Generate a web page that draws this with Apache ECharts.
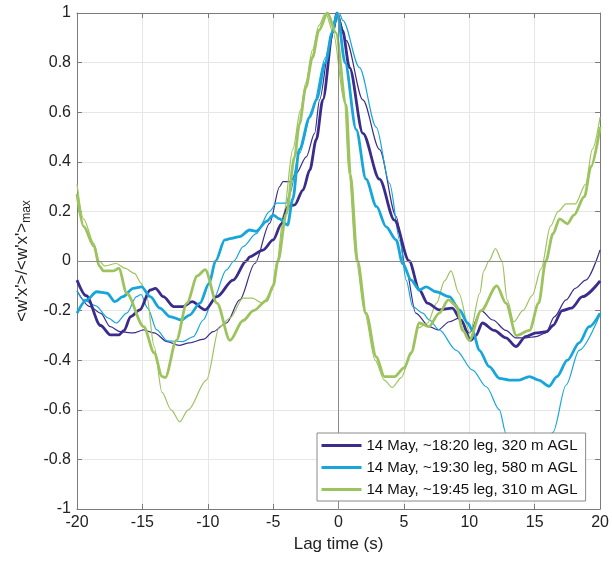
<!DOCTYPE html>
<html>
<head>
<meta charset="utf-8">
<script src="https://cdn.jsdelivr.net/npm/echarts@6/dist/echarts.min.js"></script>
<style>
html,body{margin:0;padding:0;background:#fff;}
#chart{width:612px;height:563px;}
</style>
</head>
<body>
<div id="chart"></div>
<script>
// ---- data (lag time in s, normalized covariance) ----
const legendNames = ['14 May, ~18:20 leg, 320 m AGL', '14 May, ~19:30 leg, 580 m AGL', '14 May, ~19:45 leg, 310 m AGL'];
const xTicks = [-20, -15, -10, -5, 0, 5, 10, 15, 20];
const yTicks = [-1, -0.8, -0.6, -0.4, -0.2, 0, 0.2, 0.4, 0.6, 0.8, 1];

// thick purple (18:20 leg)
const purpleLag = [-20,-19.3,-18.2,-17.45,-16.8,-16.4,-15.9,-15.2,-14.4,-14.0,-13.4,-12.6,-11.9,-11.2,-10.2,-9.3,-8.07,-7.05,-6.8,-5.78,-5.0,-4.37,-3.87,-3.36,-2.72,-2.2,-1.7,-1.2,-0.43,-0.13,0.3,0.84,1.86,3.13,4.27,5.4,6.18,6.8,7.7,8.7,9.37,10.1,10.5,11.0,11.9,12.8,13.56,14.3,15.1,15.9,16.4,17.1,17.8,18.65,20];
const purpleVal = [-0.077,-0.14,-0.26,-0.298,-0.298,-0.28,-0.224,-0.197,-0.117,-0.11,-0.144,-0.184,-0.184,-0.164,-0.197,-0.144,-0.077,0,0.017,0.044,0.085,0.15,0.22,0.226,0.286,0.367,0.49,0.65,0.925,1,0.93,0.78,0.515,0.33,0.165,0,-0.117,-0.17,-0.197,-0.19,-0.238,-0.32,-0.3,-0.25,-0.28,-0.31,-0.345,-0.305,-0.29,-0.285,-0.26,-0.2,-0.19,-0.144,-0.08];
// thin purple
const purpleThinLag = [-20,-19,-18.2,-17.45,-16.7,-15.7,-14.9,-14.1,-13.1,-12.2,-11.4,-10.3,-9.6,-8.57,-7.56,-6.4,-5.27,-4.5,-4.25,-3.7,-3.23,-2.47,-1.83,-1.45,-0.69,-0.1,0.58,1.86,3.13,4.4,5.17,5.9,6.95,7.6,8.47,9.2,10.0,10.9,11.8,12.8,13.56,14.3,15.1,15.85,16.5,17.4,18.1,18.9,20];
const purpleThinVal = [-0.12,-0.184,-0.21,-0.265,-0.285,-0.29,-0.278,-0.29,-0.325,-0.34,-0.33,-0.315,-0.285,-0.25,-0.157,-0.01,0.152,0.3,0.32,0.32,0.354,0.42,0.515,0.65,0.87,1,0.89,0.65,0.45,0.18,-0.036,-0.21,-0.265,-0.278,-0.245,-0.23,-0.29,-0.2,-0.238,-0.28,-0.31,-0.31,-0.305,-0.29,-0.225,-0.157,-0.11,-0.077,0.045];
// thick cyan (19:30 leg)
const cyanLag = [-20,-19.26,-18.5,-17.7,-17.1,-16.5,-15.7,-15.06,-14.4,-13.66,-12.9,-12.0,-11.4,-10.6,-9.9,-9.4,-8.7,-8.3,-7.56,-6.8,-6.3,-5.5,-5.0,-4.5,-3.9,-3.5,-3.0,-2.2,-1.7,-1.0,-0.5,-0.1,0.5,1.35,2.1,2.9,3.64,4.4,4.9,5.55,6.18,6.7,7.46,8.47,9.24,9.87,10.25,10.76,11.53,12.3,13.05,13.8,14.6,15.3,16.1,16.7,17.5,18.4,19.16,20];
const cyanVal = [-0.21,-0.157,-0.124,-0.13,-0.164,-0.144,-0.11,-0.104,-0.144,-0.19,-0.224,-0.238,-0.218,-0.17,-0.09,0,0.085,0.09,0.098,0.125,0.12,0.16,0.185,0.17,0.145,0.25,0.45,0.58,0.65,0.8,0.92,1,0.8,0.53,0.33,0.22,0.138,0.085,-0.01,-0.077,-0.117,-0.104,-0.124,-0.144,-0.197,-0.25,-0.28,-0.36,-0.426,-0.473,-0.48,-0.48,-0.466,-0.48,-0.505,-0.466,-0.4,-0.33,-0.265,-0.21];
// thin cyan
const cyanThinLag = [-20,-19.5,-18.6,-17.6,-17.0,-16.2,-15.45,-15.1,-14.6,-13.9,-13.1,-11.9,-11.1,-10.35,-9.6,-8.57,-8.0,-7.3,-6.3,-5.27,-4.76,-4.0,-3.74,-3.0,-2.0,-1.0,-0.5,0.05,0.33,1.6,2.88,3.9,4.7,5.17,5.67,6.44,6.95,7.7,9.0,10.25,11.3,12.3,12.8,13.5,14.5,15.5,16.4,17.4,18.4,20];
const cyanThinVal = [-0.12,-0.157,-0.18,-0.23,-0.25,-0.21,-0.144,-0.135,-0.19,-0.278,-0.322,-0.325,-0.305,-0.238,-0.157,-0.036,0,0.058,0.11,0.2,0.233,0.233,0.27,0.434,0.61,0.82,0.92,1,0.97,0.78,0.54,0.313,0.08,-0.077,-0.184,-0.21,-0.238,-0.278,-0.36,-0.44,-0.507,-0.6,-0.695,-0.8,-0.86,-0.8,-0.69,-0.5,-0.36,-0.215];
// thick green (19:45 leg)
const greenLag = [-20,-19.5,-18.7,-18.3,-17.97,-17.2,-16.8,-16.2,-14.9,-14.1,-13.5,-13.25,-12.4,-11.6,-10.8,-10.2,-9.3,-8.3,-7.3,-6.5,-5.5,-5.0,-4.63,-4.0,-3.36,-3.0,-2.5,-2.0,-1.5,-0.85,-0.2,0.58,0.9,1.45,2.1,2.88,3.5,4.27,5.04,5.55,6.18,6.9,7.7,8.4,9.0,9.5,10.0,10.9,12.1,12.8,13.6,14.6,15.3,15.85,16.4,16.9,17.5,18.0,18.8,19.3,20];
const greenVal = [0.27,0.14,0.06,-0.02,-0.04,-0.04,-0.03,-0.13,-0.265,-0.37,-0.465,-0.47,-0.32,-0.17,-0.06,-0.035,-0.17,-0.32,-0.24,-0.2,-0.16,-0.1,0,0.19,0.42,0.55,0.7,0.82,0.93,1,0.92,0.63,0.35,0,-0.21,-0.386,-0.466,-0.466,-0.43,-0.37,-0.25,-0.265,-0.21,-0.157,-0.18,-0.28,-0.32,-0.2,-0.1,-0.17,-0.3,-0.28,-0.17,0,0.11,0.17,0.15,0.185,0.26,0.38,0.54];
// thin green
const greenThinLag = [-20,-19.5,-18.7,-18.3,-17.9,-17.0,-16.3,-15.6,-15.1,-14.7,-14.1,-13.5,-12.8,-12.14,-11.5,-10.1,-9.1,-8.3,-7.3,-6.6,-5.8,-5.1,-4.7,-4.2,-3.5,-2.9,-2.5,-2.0,-1.5,-1.0,-0.4,0.45,0.8,1.35,2.0,2.8,3.5,4.1,4.8,5.5,6.1,6.8,7.5,8.1,8.6,9.2,10.05,10.8,11.1,11.5,12.0,12.5,12.9,13.4,14.1,14.8,15.5,16.2,16.8,17.4,18.1,18.9,19.4,20];
const greenThinVal = [0.31,0.17,0.07,0,-0.02,-0.01,-0.03,-0.05,-0.09,-0.13,-0.345,-0.53,-0.6,-0.648,-0.6,-0.48,-0.265,-0.23,-0.15,-0.15,-0.17,-0.12,0,0.19,0.45,0.61,0.72,0.85,0.95,1,0.92,0.64,0.35,0,-0.21,-0.4,-0.48,-0.51,-0.47,-0.38,-0.27,-0.25,-0.17,-0.08,-0.04,-0.13,-0.29,-0.13,-0.04,0,0.05,0,-0.157,-0.245,-0.2,-0.14,-0.03,0.14,0.2,0.23,0.23,0.31,0.45,0.58];

const colPurple = '#3a2c8c';
const colCyan = '#17a6da';
const colGreen = '#9dc35f';

function zip(a, b) { return a.map((v, i) => [v, b[i]]); }

const chart = echarts.init(document.getElementById('chart'));
const font = 'Liberation Sans, Arial, Helvetica, sans-serif';
const axisCol = '#7a7a7a';

function mkLine(name, lag, val, color, width, z) {
  return {
    name: name, type: 'line', data: zip(lag, val),
    xAxisIndex: 0, yAxisIndex: 0,
    showSymbol: false, symbol: 'none', smooth: 0.3, smoothMonotone: 'x',
    lineStyle: { color: color, width: width }, itemStyle: { color: color },
    z: z, animation: false
  };
}

const series = [
  {
    type: 'line', data: [], xAxisIndex: 0, yAxisIndex: 0, silent: true,
    markLine: {
      silent: true, symbol: 'none', animation: false,
      label: { show: false },
      lineStyle: { color: '#8a8a8a', width: 1, type: 'solid' },
      emphasis: { disabled: true },
      data: [{ yAxis: 0 }, { xAxis: 0 }]
    }, z: 1
  },
  mkLine('thinP', purpleThinLag, purpleThinVal, colPurple, 1.2, 2),
  mkLine('thinC', cyanThinLag, cyanThinVal, colCyan, 1.2, 2),
  mkLine('thinG', greenThinLag, greenThinVal, colGreen, 1.2, 2),
  mkLine(legendNames[0], purpleLag, purpleVal, colPurple, 2.8, 3),
  mkLine(legendNames[1], cyanLag, cyanVal, colCyan, 2.8, 3),
  mkLine(legendNames[2], greenLag, greenVal, colGreen, 2.8, 3)
];

const option = {
  backgroundColor: '#fff',
  animation: false,
  textStyle: { fontFamily: font },
  grid: { left: 77, right: 11, top: 13, bottom: 54, containLabel: false },
  xAxis: [{
    type: 'value', min: xTicks[0], max: xTicks[xTicks.length - 1], interval: 5,
    position: 'bottom',
    name: 'Lag time (s)', nameLocation: 'middle', nameGap: 27,
    nameTextStyle: { fontSize: 17, color: '#222', fontFamily: font },
    axisLine: { show: true, onZero: false, lineStyle: { color: axisCol, width: 1 } },
    axisTick: { show: true, inside: true, length: 5, lineStyle: { color: axisCol } },
    axisLabel: { fontSize: 16, color: '#222', margin: 6, fontFamily: font },
    splitLine: { show: true, lineStyle: { color: '#e6e6e6', width: 1 } }
  }, {
    type: 'value', min: xTicks[0], max: xTicks[xTicks.length - 1], interval: 5,
    position: 'top',
    axisLine: { show: true, onZero: false, lineStyle: { color: axisCol, width: 1 } },
    axisTick: { show: true, inside: true, length: 5, lineStyle: { color: axisCol } },
    axisLabel: { show: false }, splitLine: { show: false }
  }],
  yAxis: [{
    type: 'value', min: yTicks[0], max: yTicks[yTicks.length - 1], interval: 0.2,
    position: 'left',
    name: "<w'x'>/<w'x'>{sub|max}", nameLocation: 'middle', nameGap: 38, nameRotate: 90,
    nameTextStyle: {
      fontSize: 17, color: '#222', fontFamily: font,
      rich: { sub: { fontSize: 12, color: '#222', fontFamily: font, padding: [9, 0, 0, 0] } }
    },
    axisLine: { show: true, onZero: false, lineStyle: { color: axisCol, width: 1 } },
    axisTick: { show: true, inside: true, length: 5, lineStyle: { color: axisCol } },
    axisLabel: {
      fontSize: 16, color: '#222', margin: 6, fontFamily: font,
      formatter: function (v) { return String(Math.round(v * 10) / 10); }
    },
    splitLine: { show: true, lineStyle: { color: '#e6e6e6', width: 1 } }
  }, {
    type: 'value', min: yTicks[0], max: yTicks[yTicks.length - 1], interval: 0.2,
    position: 'right',
    axisLine: { show: true, onZero: false, lineStyle: { color: axisCol, width: 1 } },
    axisTick: { show: true, inside: true, length: 5, lineStyle: { color: axisCol } },
    axisLabel: { show: false }, splitLine: { show: false }
  }],
  legend: {
    data: legendNames,
    orient: 'vertical', left: 317, top: 433,
    padding: [5, 8, 4, 3], itemGap: 7,
    itemWidth: 40, itemHeight: 16,
    itemStyle: { opacity: 0 },
    lineStyle: { width: 3 },
    backgroundColor: '#fff', borderColor: '#8a8a8a', borderWidth: 1,
    textStyle: { fontSize: 15, color: '#111', fontFamily: font },
    selectedMode: false, z: 10
  },
  series: series
};
chart.setOption(option);
</script>
</body>
</html>
